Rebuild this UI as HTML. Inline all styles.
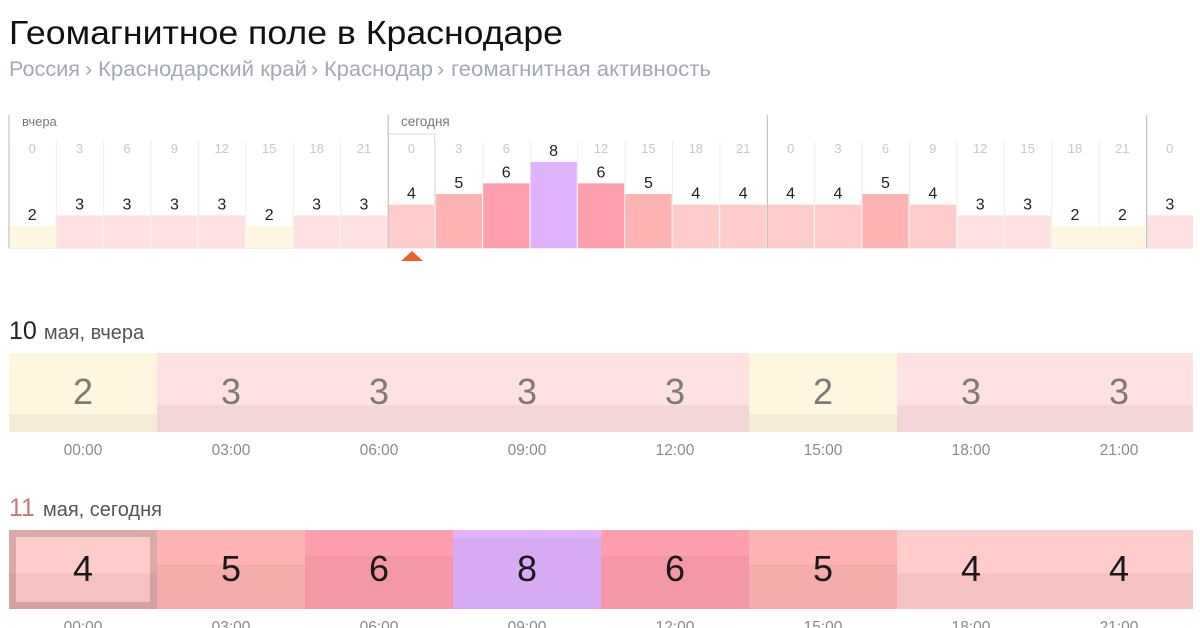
<!DOCTYPE html>
<html lang="ru">
<head>
<meta charset="utf-8">
<title>Геомагнитное поле в Краснодаре</title>
<style>
html,body{margin:0;padding:0;background:#fff;width:1200px;height:628px;overflow:hidden}
svg{display:block;font-family:"Liberation Sans","Noto Sans CJK SC",sans-serif}
</style>
</head>
<body>
<svg id="chart" width="1200" height="628" viewBox="0 0 1200 628" xmlns="http://www.w3.org/2000/svg">
  <text x="9" y="44" font-size="33" fill="#111" textLength="554" lengthAdjust="spacingAndGlyphs">Геомагнитное поле в Краснодаре</text>
  <g font-size="21.5" fill="#a3a9b5">
    <text x="9" y="76" textLength="71" lengthAdjust="spacingAndGlyphs">Россия</text>
    <text x="85" y="76">›</text>
    <text x="98" y="76" textLength="209" lengthAdjust="spacingAndGlyphs">Краснодарский край</text>
    <text x="311" y="76">›</text>
    <text x="324" y="76" textLength="109" lengthAdjust="spacingAndGlyphs">Краснодар</text>
    <text x="437" y="76">›</text>
    <text x="451" y="76" textLength="260" lengthAdjust="spacingAndGlyphs">геомагнитная активность</text>
  </g>
  <text x="22" y="126" font-size="13" fill="#777">вчера</text>
  <text x="401" y="126" font-size="13.5" fill="#777">сегодня</text>
  <g id="overview"></g>
  <text x="9" y="339" font-size="25" fill="#222">10<tspan font-size="20" fill="#555" dx="7">мая, вчера</tspan></text>
  <g id="row1"></g>
  <text x="9" y="516" font-size="25" fill="#c07c7c">11<tspan font-size="20" fill="#555" dx="8">мая, сегодня</tspan></text>
  <g id="row2"></g>
</svg>
<script>
const overviewValues = [2,3,3,3,3,2,3,3, 4,5,6,8,6,5,4,4, 4,4,5,4,3,3,2,2, 3];
const overviewHours = [0,3,6,9,12,15,18,21, 0,3,6,9,12,15,18,21, 0,3,6,9,12,15,18,21, 0];
const yesterdayValues = [2,3,3,3,3,2,3,3];
const todayValues = [4,5,6,8,6,5,4,4];
const timeLabels = ["00:00","03:00","06:00","09:00","12:00","15:00","18:00","21:00"];
const levelColors = {2:"#fff6e0",3:"#ffe1e1",4:"#ffcccc",5:"#ffb3b3",6:"#ff9fad",8:"#e0b3ff"};

const NS = "http://www.w3.org/2000/svg";
function make(parent, tag, attrs, text){
  const el = document.createElementNS(NS, tag);
  for (const k in attrs) el.setAttribute(k, attrs[k]);
  if (text !== undefined) el.textContent = text;
  parent.appendChild(el);
  return el;
}

// Overview chart axes
const ovX = i => 9 + i * 47.4;
const ovBase = 248;
const ovH = v => 0.5 + v * 10.7;
const ov = document.getElementById("overview");

overviewValues.forEach((v, i) => {
  const x = ovX(i), h = ovH(v);
  const sep = make(ov, "rect", {x: x - 0.6, y: 141, width: 1, height: ovBase - 141, fill: "#eeeeee"});
  
  
  const bar = make(ov, "rect", {x: x + 0.2, y: ovBase - h, width: 46.2, height: h, fill: levelColors[v]});
  
  
  const labelTop = ovBase - h - 6;
  if (labelTop > 160) {
    const hour = make(ov, "text", {x: x + 23.2, y: 153, "font-size": 13, fill: "#c9c9c9", "text-anchor": "middle"}, overviewHours[i]);
    
    
  }
  const val = make(ov, "text", {x: x + 23.2, y: labelTop, "font-size": 16, fill: "#222", "text-anchor": "middle"}, v);
  
  
});

const base = make(ov, "rect", {x: 9, y: 248, width: 1185, height: 1, fill: "#f0f0f0"});



[0, 8, 16, 24].forEach(i => {
  const d = make(ov, "rect", {x: ovX(i) - 0.6, y: 115, width: 1.2, height: ovBase - 115, fill: "#c4c4c4"});
  
  
});

const frame = make(ov, "path", {d: "M388.5 134H434.6V248", fill: "none", stroke: "#e4e4e4", "stroke-width": 1.2});



const marker = make(ov, "polygon", {points: "401,261 412,251 423,261", fill: "#e9622b"});



// Day rows
const rowX = i => 9 + i * 148;
const rowW = 148;
const rowH = 79;
const shadeH = v => v * 8.9;

function drawRow(id, values, top, textColor, timeY){
  const g = document.getElementById(id);
  values.forEach((v, i) => {
    const x = rowX(i), sh = shadeH(v);
    const cell = make(g, "rect", {x: x, y: top, width: rowW, height: rowH, fill: levelColors[v]});
    
    
    const shade = make(g, "rect", {x: x, y: top + rowH - sh, width: rowW, height: sh, fill: "rgba(60,30,30,0.055)"});
    
    
    const val = make(g, "text", {x: x + rowW / 2, y: top + 51, "font-size": 36, fill: textColor, "text-anchor": "middle"}, v);
    
    
    const time = make(g, "text", {x: x + rowW / 2, y: timeY, "font-size": 15.5, fill: "#8b8b8b", "text-anchor": "middle"}, timeLabels[i]);
    
    
  });
}
drawRow("row1", yesterdayValues, 353, "#7e7a76", 455);
drawRow("row2", todayValues, 530, "#1a1a1a", 632);

const selected = make(document.getElementById("row2"), "rect", {x: 12.5, y: 533.5, width: 141, height: 72, fill: "none", stroke: "rgba(110,60,60,0.24)", "stroke-width": 7});


</script>
</body>
</html>
